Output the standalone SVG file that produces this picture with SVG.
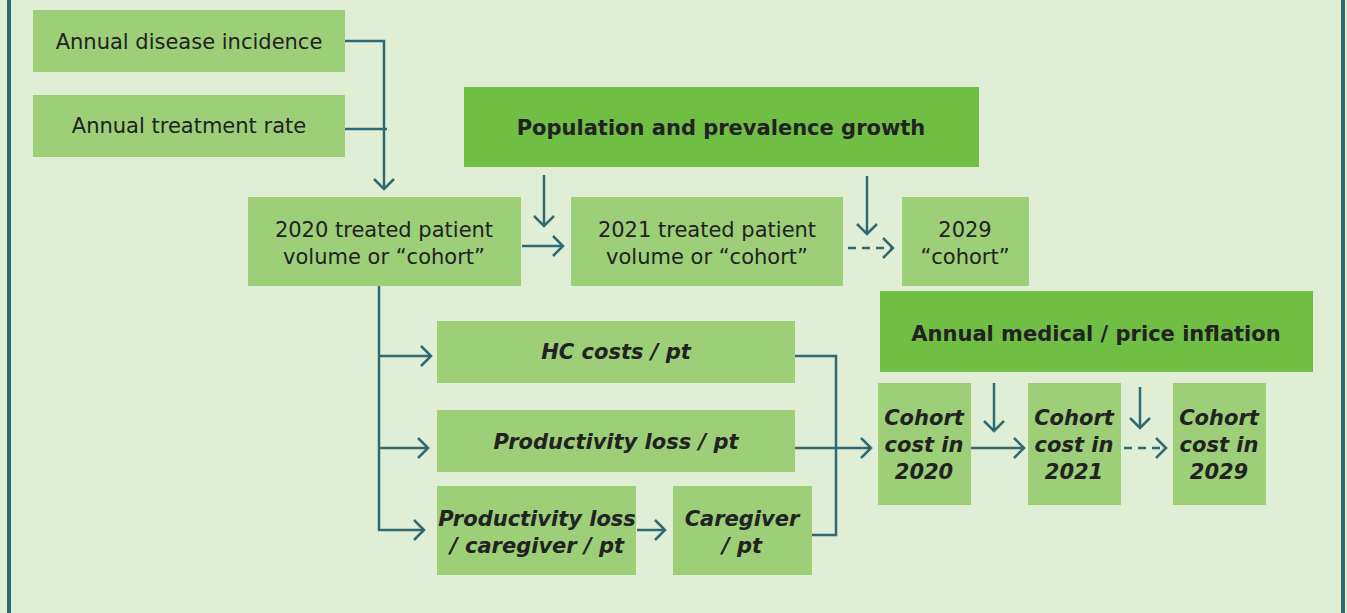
<svg xmlns="http://www.w3.org/2000/svg" width="1347" height="613" viewBox="0 0 1347 613">
<style>
.bg{fill:#E1EED6}
.lt{fill:#9DCE78}
.dk{fill:#71BE45}
text{font-family:"DejaVu Sans","Verdana",sans-serif;font-size:21px;fill:#222;text-anchor:middle}
.b{font-weight:bold}
.bi{font-weight:bold;font-style:italic}
.c{fill:none;stroke:#2E6A73;stroke-width:2.5}
.d{stroke-dasharray:8,6}
</style>
<defs>
<marker id="ah" markerUnits="userSpaceOnUse" markerWidth="20" markerHeight="24" refX="12" refY="12" orient="auto" viewBox="0 0 20 24">
<path d="M2,2 L12,12 L2,22" fill="none" stroke="#2E6A73" stroke-width="2.5"/>
</marker>
</defs>
<rect class="bg" x="0" y="0" width="1347" height="613"/>
<line x1="9" y1="0" x2="9" y2="613" stroke="#2E6A73" stroke-width="4"/>
<line x1="1343" y1="0" x2="1343" y2="613" stroke="#2E6A73" stroke-width="4"/>

<g id="connectors">
<polyline class="c" points="341,41 384,41 384,189" marker-end="url(#ah)"/>
<line class="c" x1="345" y1="129" x2="387" y2="129"/>
<line class="c" x1="544" y1="175" x2="544" y2="226" marker-end="url(#ah)"/>
<line class="c" x1="522" y1="246" x2="563" y2="246" marker-end="url(#ah)"/>
<line class="c" x1="867" y1="176" x2="867" y2="234" marker-end="url(#ah)"/>
<line class="c d" x1="848" y1="248" x2="893" y2="248" marker-end="url(#ah)"/>
<polyline class="c" points="379,286 379,530 424,530" marker-end="url(#ah)"/>
<line class="c" x1="379" y1="356" x2="431" y2="356" marker-end="url(#ah)"/>
<line class="c" x1="379" y1="448" x2="428" y2="448" marker-end="url(#ah)"/>
<line class="c" x1="637" y1="530" x2="665" y2="530" marker-end="url(#ah)"/>
<polyline class="c" points="795,356 836,356 836,535 794,535"/>
<line class="c" x1="790" y1="448" x2="871" y2="448" marker-end="url(#ah)"/>
<line class="c" x1="994" y1="383" x2="994" y2="431" marker-end="url(#ah)"/>
<line class="c" x1="1140" y1="387" x2="1140" y2="428" marker-end="url(#ah)"/>
<line class="c" x1="971" y1="448" x2="1024" y2="448" marker-end="url(#ah)"/>
<line class="c d" x1="1124" y1="448" x2="1166" y2="448" marker-end="url(#ah)"/>
</g>

<g id="n-incidence"><rect class="lt" x="33" y="10" width="312" height="62"/><text x="189" y="49">Annual disease incidence</text></g>
<g id="n-treatment"><rect class="lt" x="33" y="95" width="312" height="62"/><text x="189" y="133">Annual treatment rate</text></g>
<g id="n-popgrowth"><rect class="dk" x="464" y="87" width="515" height="80"/><text class="b" x="721" y="135">Population and prevalence growth</text></g>
<g id="n-2020"><rect class="lt" x="248" y="197" width="273" height="89"/><text x="384" y="237">2020 treated patient</text><text x="384" y="264">volume or “cohort”</text></g>
<g id="n-2021"><rect class="lt" x="571" y="197" width="272" height="89"/><text x="707" y="237">2021 treated patient</text><text x="707" y="264">volume or “cohort”</text></g>
<g id="n-2029"><rect class="lt" x="902" y="197" width="127" height="89"/><text x="965" y="237">2029</text><text x="965" y="264">“cohort”</text></g>
<g id="n-inflation"><rect class="dk" x="880" y="291" width="433" height="81"/><text class="b" x="1096" y="341">Annual medical / price inflation</text></g>
<g id="n-hc"><rect class="lt" x="437" y="321" width="358" height="62"/><text class="bi" x="616" y="359">HC costs / pt</text></g>
<g id="n-prod"><rect class="lt" x="437" y="410" width="358" height="62"/><text class="bi" x="616" y="449">Productivity loss / pt</text></g>
<g id="n-prodcg"><rect class="lt" x="437" y="486" width="199" height="89"/><text class="bi" x="537" y="526">Productivity loss</text><text class="bi" x="537" y="553">/ caregiver / pt</text></g>
<g id="n-caregiver"><rect class="lt" x="673" y="486" width="139" height="89"/><text class="bi" x="742" y="526">Caregiver</text><text class="bi" x="742" y="553">/ pt</text></g>
<g id="n-cc2020"><rect class="lt" x="878" y="383" width="93" height="122"/><text class="bi" x="924" y="425">Cohort</text><text class="bi" x="924" y="452">cost in</text><text class="bi" x="924" y="479">2020</text></g>
<g id="n-cc2021"><rect class="lt" x="1028" y="383" width="93" height="122"/><text class="bi" x="1074" y="425">Cohort</text><text class="bi" x="1074" y="452">cost in</text><text class="bi" x="1074" y="479">2021</text></g>
<g id="n-cc2029"><rect class="lt" x="1173" y="383" width="93" height="122"/><text class="bi" x="1219" y="425">Cohort</text><text class="bi" x="1219" y="452">cost in</text><text class="bi" x="1219" y="479">2029</text></g>
</svg>
